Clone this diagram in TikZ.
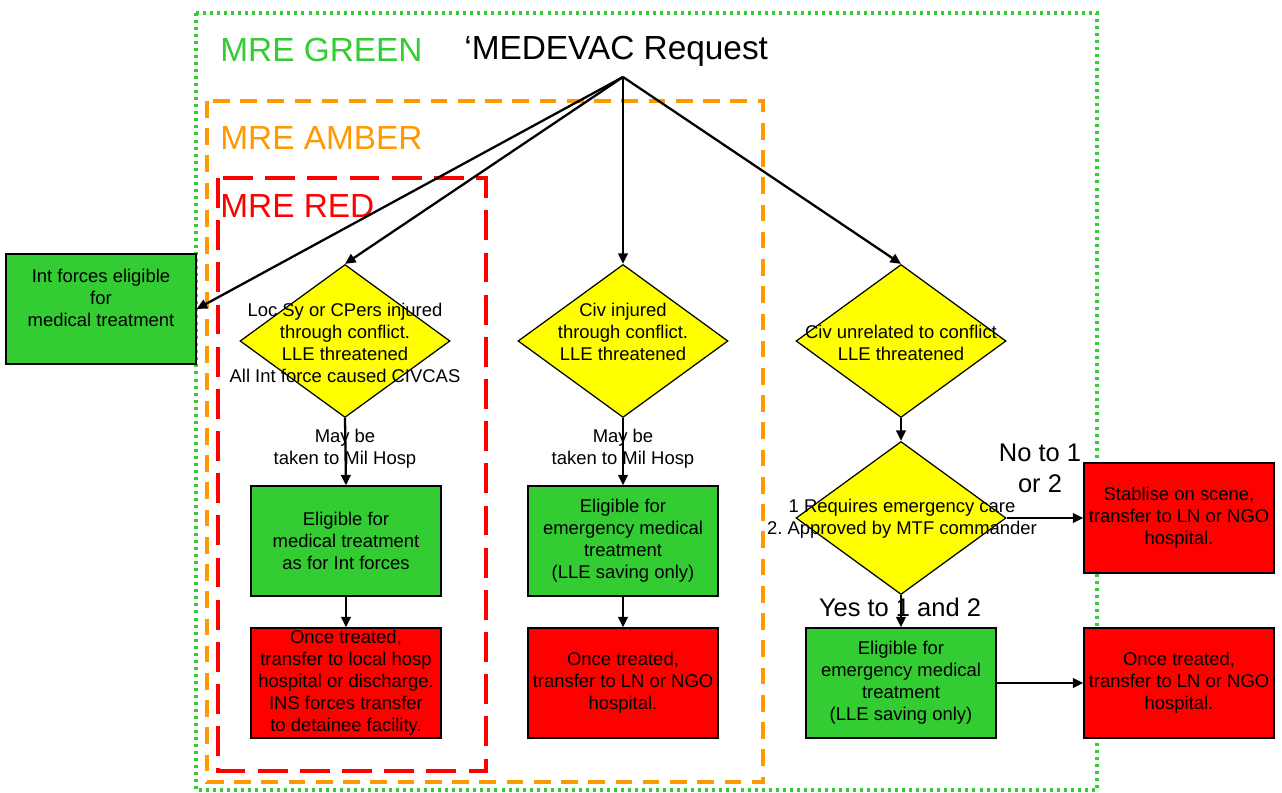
\documentclass[tikz,border=0pt]{standalone}
\usepackage{fontspec}
\setmainfont{Liberation Sans}
\usetikzlibrary{shapes.geometric, arrows.meta}
\definecolor{mregreen}{RGB}{51, 204, 51}
\definecolor{mreamber}{RGB}{255, 153, 0}
\definecolor{mrered}{RGB}{255, 0, 0}
\definecolor{decide}{RGB}{255, 255, 0}

\begin{document}
\begin{tikzpicture}[x=0.2mm, y=-0.2mm,
  txt/.style={align=center, inner sep=0pt, font=\fontsize{10.5}{12.5}\selectfont},
  box/.style={txt, draw=black, line width=0.7pt, minimum width=3.8cm, minimum height=2.2cm},
  okbox/.style={box, fill=mregreen},
  stopbox/.style={box, fill=mrered},
  dia/.style={diamond, draw=black, line width=0.7pt, fill=decide, inner sep=0pt,
    minimum width=4.2cm, minimum height=3.06cm},
  big/.style={inner sep=0pt, anchor=west, font=\fontsize{19}{22}\selectfont},
  answer/.style={align=center, inner sep=0pt, font=\fontsize{14.5}{17.6}\selectfont},
  flow/.style={line width=1.3pt, -{Triangle[length=6pt, width=5.5pt]}}]
  \useasboundingbox (0, 0) rectangle (1282, 792);

  % zones
  \draw[mregreen, line width=1.8pt, dash pattern=on 1.7pt off 2.3pt] (196, 13) rectangle (1097, 790);
  \draw[mreamber, line width=1.8pt, dash pattern=on 9.5pt off 6pt] (207, 101) rectangle (763, 782);
  \draw[mrered, line width=2pt, dash pattern=on 17pt off 7pt] (218, 178) rectangle (486, 771);

  \node[big, text=mregreen] (green) at (220, 50) {MRE GREEN};
  \node[big] (req) at (464, 51) {‘MEDEVAC Request};
  \node[big, text=mreamber] (amber) at (220, 138) {MRE AMBER};
  \node[big, text=mrered] (red) at (220, 206) {MRE RED};
  \coordinate (src) at (623, 77);

  \node[okbox] (intf) at (101, 309) {Int forces eligible\\for\\medical treatment\\~};

  \node[dia] (d1) at (345, 341) {};
  \node[dia] (d2) at (623, 341) {};
  \node[dia] (d3) at (901, 341) {};
  \node[dia] (d4) at (901, 518) {};
  \node[txt] (t1) at (345, 343) {Loc Sy or CPers injured\\through conflict.\\LLE threatened\\All Int force caused CIVCAS};
  \node[txt] (t2) at (623, 332) {Civ injured\\through conflict.\\LLE threatened};
  \node[txt] (t3) at (901, 343) {Civ unrelated to conflict\\LLE threatened};
  \node[txt] (t4) at (902, 519) {1 Requires emergency care\\2.\ Approved by MTF commander};

  \node[okbox] (ok1) at (346, 541) {Eligible for\\medical treatment\\as for Int forces};
  \node[stopbox] (out1) at (346, 683) {Once treated,\\transfer to local hosp\\hospital or discharge.\\INS forces transfer\\to detainee facility.};
  \node[okbox] (ok2) at (623, 541) {Eligible for\\emergency medical\\treatment\\(LLE saving only)};
  \node[stopbox] (out2) at (623, 683) {Once treated,\\transfer to LN or NGO\\hospital.};
  \node[stopbox] (stab) at (1179, 518) {Stablise on scene,\\transfer to LN or NGO\\hospital.};
  \node[okbox] (ok3) at (901, 683) {Eligible for\\emergency medical\\treatment\\(LLE saving only)};
  \node[stopbox] (out3) at (1179, 683) {Once treated,\\transfer to LN or NGO\\hospital.};

  \draw[flow] (src) -- (intf.east);
  \foreach \d in {d1, d2, d3} {
    \draw[flow] (src) -- (\d.north);
  }
  \draw[flow] (d1.south) -- (ok1.north);
  \draw[flow] (ok1.south) -- (out1.north);
  \draw[flow] (d2.south) -- (ok2.north);
  \draw[flow] (ok2.south) -- (out2.north);
  \draw[flow] (d3.south) -- (d4.north);
  \draw[flow] (d4.east) -- (stab.west);
  \draw[flow] (d4.south) -- (ok3.north);
  \draw[flow] (ok3.east) -- (out3.west);

  \node[txt] (may1) at (345, 449) {May be\\taken to Mil Hosp};
  \node[txt] (may2) at (623, 449) {May be\\taken to Mil Hosp};
  \node[answer] (no) at (1040, 468) {No to 1\\or 2\hspace{12pt}};
  \node[answer] (yes) at (900, 607) {Yes to 1 and 2};
\end{tikzpicture}
\end{document}
